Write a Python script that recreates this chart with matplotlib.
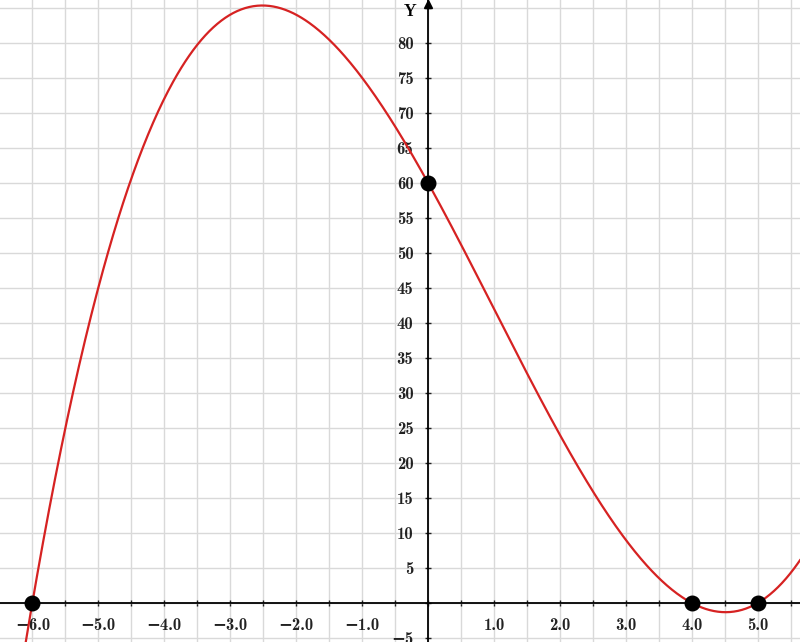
import numpy as np
import matplotlib.pyplot as plt
from matplotlib.ticker import MultipleLocator, FuncFormatter

# cubic: roots and leading coefficient
roots = [-6.0, 4.0, 5.0]
lead = 0.5
# marked points
pt_x = [-6.0, 0.0, 4.0, 5.0]
pt_y = [0.0, 60.0, 0.0, 0.0]

x_min, x_max = -6.49, 5.64
y_min, y_max = -5.57, 86.1

plt.rcParams['font.family'] = ['cmb10', 'DejaVu Serif']
plt.rcParams['axes.unicode_minus'] = True

fig = plt.figure(figsize=(8, 6.42), dpi=100)
ax = fig.add_axes([0, 0, 1, 1])

xs = np.linspace(x_min, x_max, 800)
ys = lead * np.poly(roots)
ax.plot(xs, np.polyval(ys, xs), color='#d62222', lw=1.6, zorder=3)
ax.scatter(pt_x, pt_y, s=110, color='black', zorder=4)

ax.set_xlim(x_min, x_max)
ax.set_ylim(y_min, y_max)

# axes through the origin
for side in ['top', 'right']:
    ax.spines[side].set_visible(False)
ax.spines['left'].set_position(('data', 0))
ax.spines['bottom'].set_position(('data', 0))
ax.spines['left'].set_linewidth(1.3)
ax.spines['bottom'].set_linewidth(1.3)

ax.xaxis.set_major_locator(MultipleLocator(0.5))
ax.yaxis.set_major_locator(MultipleLocator(5))

def xfmt(v, pos):
    if abs(v - round(v)) > 1e-6 or abs(v) < 1e-6:
        return ''
    return f'{v:.1f}'.replace('-', '\u2212')

def yfmt(v, pos):
    if abs(v) < 1e-6 or v > 82:
        return ''
    return f'{v:.0f}'.replace('-', '\u2212')

ax.xaxis.set_major_formatter(FuncFormatter(xfmt))
ax.yaxis.set_major_formatter(FuncFormatter(yfmt))
ax.tick_params(direction='inout', length=5, width=1, labelsize=12, pad=8, colors='#222222')
for lab in ax.get_xticklabels() + ax.get_yticklabels():
    lab.set_fontweight('bold')

ax.grid(True, color='#d9d9d9', lw=1)
ax.set_axisbelow(True)

# arrow on top of y axis and its name
ax.plot([0], [y_max - 0.6], marker='^', color='black', markersize=6, clip_on=False, zorder=5)
ax.text(-0.27, 84.4, 'Y', fontsize=12, fontweight='bold', ha='center', va='center')

fig.savefig('out.png', dpi=100)
